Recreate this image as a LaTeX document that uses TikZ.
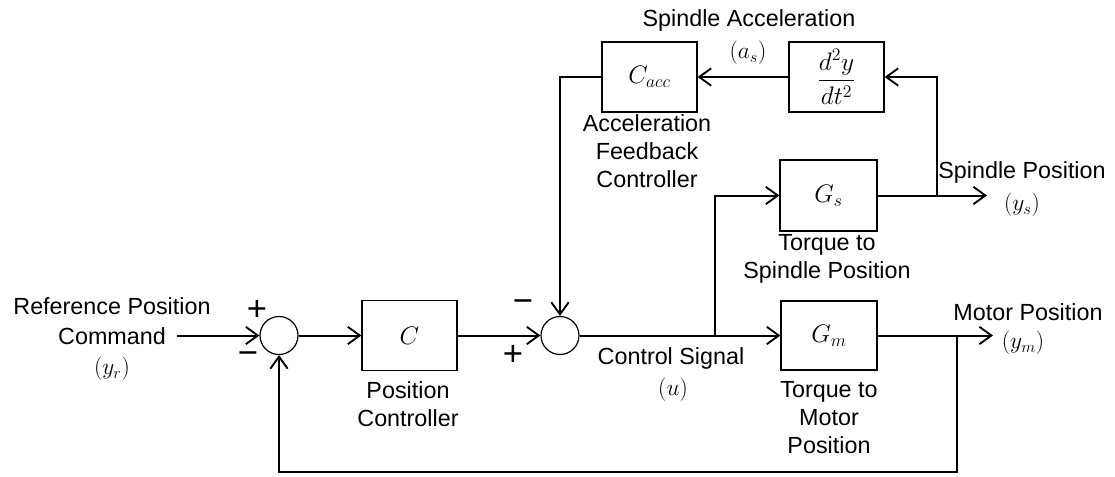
\RequirePackage{fix-cm}
\documentclass[tikz,border=0pt]{standalone}
\usepackage{amsmath}
\usepackage{fontspec}
\setmainfont{Liberation Sans}
\usetikzlibrary{arrows.meta}
\begin{document}
\begin{tikzpicture}[x=0.75pt,y=-0.75pt,
  blk/.style={draw, line width=0.9pt, minimum width=71.25pt, minimum height=52.5pt, inner sep=0pt, font=\fontsize{19}{21}\selectfont},
  sumc/.style={draw, circle, line width=0.9pt, minimum size=28.5pt, inner sep=0pt},
  conn/.style={line width=1.5pt},
  arr/.style={conn, -{Straight Barb[length=9pt,width=13pt,line width=1.4pt]}},
  lbl/.style={font=\fontsize{17.5}{21}\selectfont, align=center, inner sep=0pt},
  sgn/.style={font=\fontsize{26}{26}\selectfont, inner sep=0pt}
]
\fill[white] (0,0) rectangle (1115,476);
\useasboundingbox (0,0) rectangle (1115,476);

% blocks
\node[sumc] (s1) at (279,335.5) {};
\node[blk] (C) at (409.5,335.5) {$C$};
\node[sumc] (s2) at (560,335.5) {};
\node[blk, minimum width=72pt, minimum height=51.75pt] (Gm) at (829,335.5) {$G_m$};
\node[blk, minimum width=72.75pt, minimum height=53.25pt] (Gs) at (828.5,195.5) {$G_s$};
\node[blk] (Ca) at (649.5,77) {$C_{acc}$};
\node[blk] (D) at (836.5,77) {$\dfrac{d^2y}{dt^2}$};

% coordinates
\coordinate (in) at (177,335.5);
\coordinate (b1) at (715,335.5);
\coordinate (b2) at (937,195.5);
\coordinate (ys) at (987,195.5);
\coordinate (b3) at (957,335.5);
\coordinate (ym) at (993,335.5);
\coordinate (bot) at (957,472);

% connectors
\draw[arr] (in) -- (s1);
\draw[arr] (s1) -- (C);
\draw[arr] (C) -- (s2);
\draw[arr] (s2.east) -- (Gm.west);
\draw[arr] (b1) |- (Gs.west);
\draw[arr] (Gs) -- (ys);
\draw[arr] (b2) |- (D.east);
\draw[arr] (D) -- (Ca);
\draw[arr] (Ca.west) -| (s2.north);
\draw[arr] (Gm) -- (ym);
\draw[arr] (b3) -- (bot) -| (s1.south);

% signs
\node[sgn] (p1) at (257,310) {+};
\node[sgn] (m1) at (248,358) {−};
\node[sgn] (m2) at (523,306) {−};
\node[sgn] (p2) at (513,355) {+};

% labels
\node[lbl, font=\fontsize{17.5}{22.5}\selectfont] (lref) at (112,339) {Reference Position\\Command\\$(y_r)$};
\node[lbl] (lpc) at (408,404) {Position\\Controller};
\node[lbl] (lcs) at (671,358) {Control Signal};
\node[lbl] (lu) at (673,390) {$(u)$};
\node[lbl] (lgm) at (829,418) {Torque to\\Motor\\Position};
\node[lbl] (lmp) at (1028,312) {Motor Position};
\node[lbl] (lym) at (1023,343) {$(y_m)$};
\node[lbl] (lgs) at (827,259) {Torque to\\Spindle Position};
\node[lbl] (lsp) at (1022,172) {Spindle Position};
\node[lbl] (lys) at (1022,205) {$(y_s)$};
\node[lbl] (lca) at (647,151) {Acceleration\\Feedback\\Controller};
\node[lbl] (lsa) at (749,20) {Spindle Acceleration};
\node[lbl] (las) at (748,53) {$(a_s)$};
\end{tikzpicture}
\end{document}
